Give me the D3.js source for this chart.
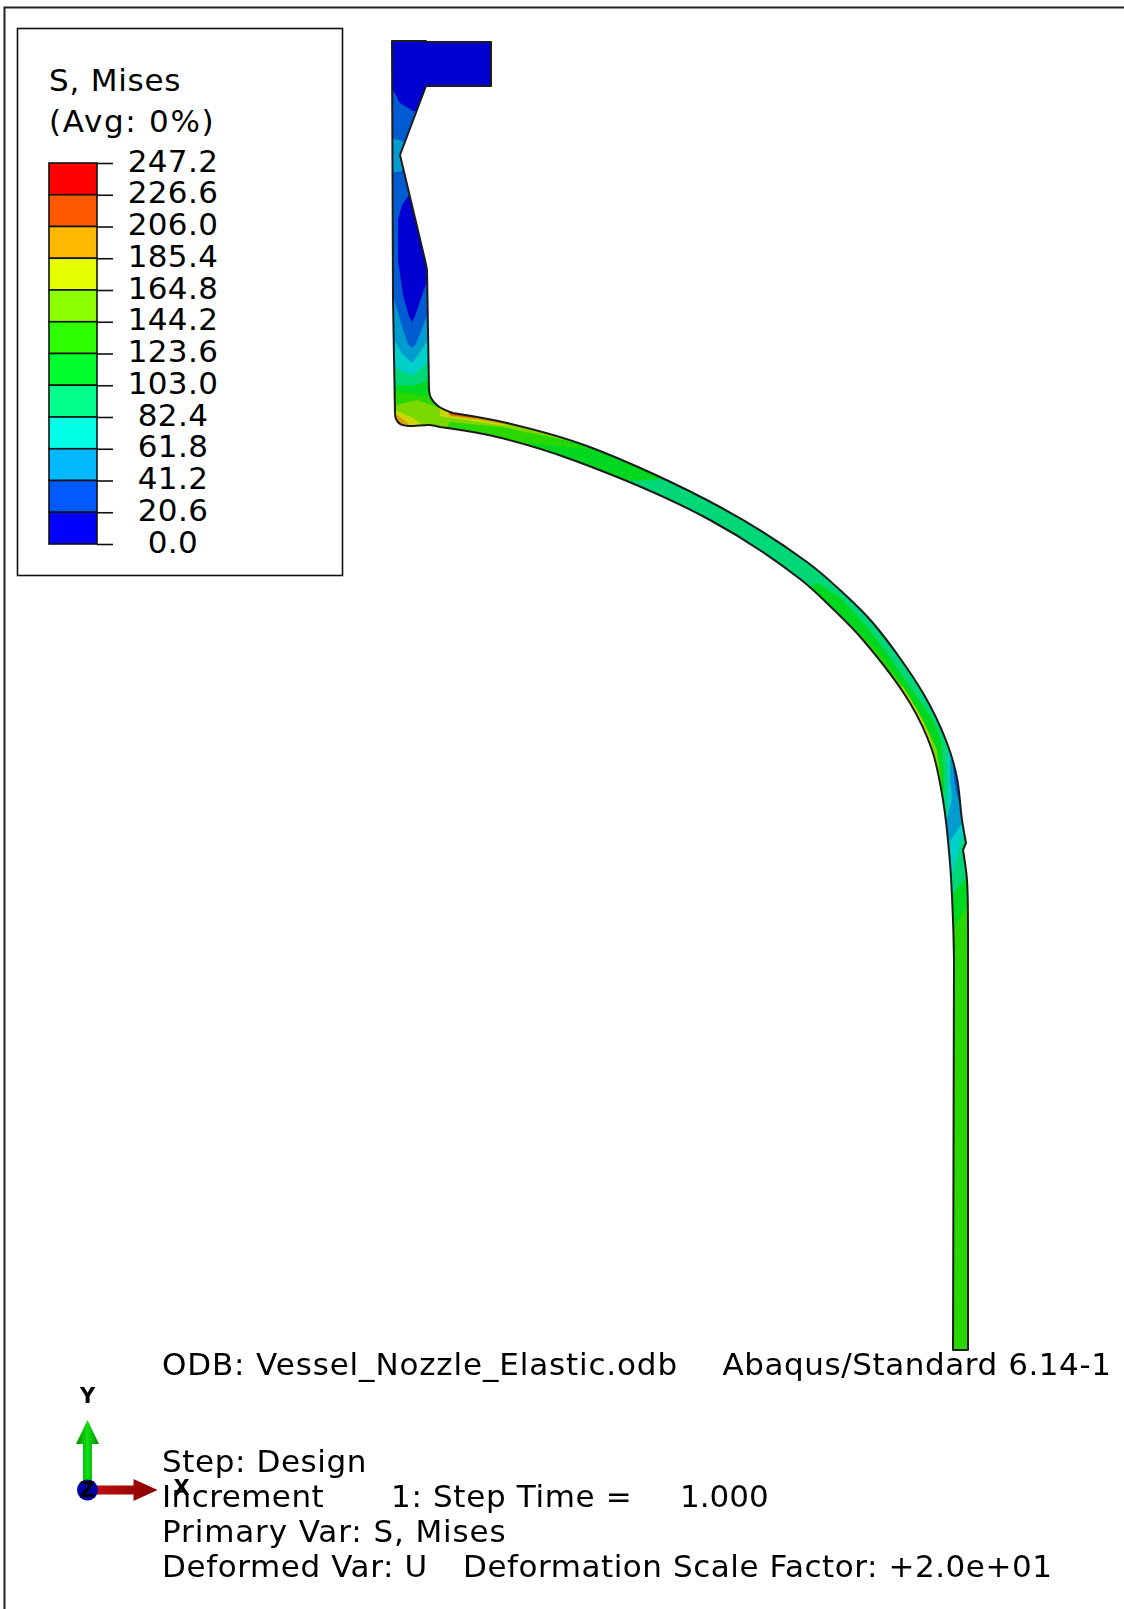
<!DOCTYPE html>
<html>
<head>
<meta charset="utf-8">
<script src="https://cdnjs.cloudflare.com/ajax/libs/d3/7.8.5/d3.min.js"></script>
<style>
  html, body { margin: 0; background: #fff; }
  svg { display: block; font-family: "DejaVu Sans", sans-serif; filter: blur(0.45px); }
  text { fill: #000; }
</style>
</head>
<body>
<div id="chart"></div>
<script>
// legend
var legendTitle = ["S, Mises", "(Avg: 0%)"];
var legendValues = [247.2, 226.6, 206.0, 185.4, 164.8, 144.2, 123.6, 103.0, 82.4, 61.8, 41.2, 20.6, 0.0];
var legendColors = ["#ff0000", "#ff5a00", "#ffb900", "#e6ff00", "#8cff00", "#2dff00", "#00ff2d", "#00ff8c", "#00ffe6", "#00b9ff", "#005aff", "#0000ff"];

// shaded colours of the contour bands on the part, low stress to high
var bandColors = ["#0000d0", "#005cd0", "#009cd0", "#00d0c8", "#00d878", "#00d820", "#28d800", "#7ad800", "#c8d800", "#d8a000", "#d85000"];

// outline of the part in model units
var outlineFlange = [[0,1309],[34,1309],[34,1308],[99,1308],[99,1264],[34,1264],[8,1195],[33,1090],[35,1080],[37,960]];
var outlineFillet = [[37,960],[39,952],[46,944],[58,938],[61,937]];
var outlineOuter = [[61,937],[115,927],[195,904],[328,843],[415,788],[448,760],[481,727],[531,657],[555,607],[565,572],[570,530],[574,507]];
var outlineKink = [[574,507],[571,500]];
var outlineShell = [[571,500],[575,470],[576,423],[576,390]];
var outlineEnd = [[576,390],[576,0],[561,0],[562,390]];
var outlineInner = [[562,390],[561,430],[558,487],[551,550],[540,600],[518,647],[471,710],[441,741],[408,771],[318,830],[181,890],[105,913],[48,923]];
var outlineHeel = [[48,923],[38,925],[16,924],[8,926],[4,931],[3,937]];
var outlineLeft = [[3,937],[1,1050],[0,1309]];

// contour regions: band index + polygon, painted in order and clipped to the outline
var contourBands = [0,1,2,2,3,4,5,6,7,8,9,10, 4,6,5,4, 5,6,7, 8,9,10, 5,6,7,8,9, 3,2,1];
var contourRegions = [
  [[-7,1320],[110,1320],[110,1250],[48,1250],[48,900],[-7,900]],
  [[-7,1260],[1,1260],[8,1247],[21,1239],[33,1239],[33,1157],[17,1155],[10,1145],[6,1130],[6,1090],[11,1055],[17,1034],[20,1028],[23,1034],[36,1072],[48,1072],[48,900],[-7,900]],
  [[-7,1213],[11,1209],[18,1195],[10,1179],[-7,1176]],
  [[1,1055],[11,1020],[16,1006],[20,1002],[24,1006],[36,1037],[48,1037],[48,900],[-7,900],[-7,1055]],
  [[2,1010],[11,995],[20,987],[28,998],[36,1010],[48,1010],[48,900],[-7,900],[-7,1010]],
  [[3,983],[11,978],[20,975],[28,980],[36,988],[48,988],[48,900],[-7,900],[-7,983]],
  [[3,965],[20,964],[37,970],[48,970],[48,900],[-7,900],[-7,965]],
  [[4,958],[21,956],[40,953],[48,953],[48,900],[-7,900],[-7,958]],
  [[4,945],[25,950],[45,943],[48,942],[48,900],[-7,900],[-7,945]],
  [[-7,942],[5,939],[21,932],[36,922],[-7,920]],
  [[-7,938],[5,935],[11,931],[20,922],[-7,920]],
  [[-7,932],[4,930],[8,928],[14,922],[-7,920]],
  [[48,955],[588,955],[588,550],[48,550]],
  [[548,447],[588,447],[588,-10],[548,-10]],
  [[548,500],[588,500],[588,450],[576,447],[563,423],[548,423]],
  [[548,550],[588,550],[588,473],[575,473],[561,457],[548,457]],
  [[48,955],[268,880],[268,871],[238,869],[228,855],[48,910]],
  [[58,928],[115,922],[148,915],[198,901],[135,907],[128,890],[48,910],[48,930]],
  [[48,950],[198,904],[148,915],[115,922],[58,928],[48,910]],
  [[48,950],[143,914],[118,923],[88,928],[58,932],[48,934]],
  [[53,946],[111,931],[111,926],[88,930],[58,934]],
  [[53,944],[83,938],[83,932],[58,935]],
  [[425,767],[448,753],[475,723],[495,697],[518,663],[541,630],[549,610],[552,577],[552,540],[533,540],[488,630],[408,730],[408,760]],
  [[465,720],[491,693],[511,663],[528,633],[541,607],[549,580],[551,550],[535,550],[488,630],[458,700]],
  [[501,675],[515,657],[531,630],[545,600],[549,565],[530,565],[488,650],[490,680]],
  [[511,663],[525,640],[538,613],[541,597],[530,590],[495,665]],
  [[521,640],[532,618],[537,603],[525,603],[515,640]],
  [[556,602],[561,602],[583,570],[583,515],[571,515],[565,493],[561,477],[553,477],[553,507],[555,533],[556,560]],
  [[558,590],[583,590],[583,527],[570,527],[561,513],[556,507],[552,507],[553,525],[555,533],[558,543],[560,553],[558,570]],
  [[561,585],[583,585],[583,542],[569,542],[565,555],[562,570]]
];

// captions under the model
var odbLabel = "ODB: Vessel_Nozzle_Elastic.odb";
var versionLabel = "Abaqus/Standard 6.14-1";
var stepLabel = "Step: Design";
var incrementLabels = ["Increment", "1: Step Time =", "1.000"];
var primaryLabel = "Primary Var: S, Mises";
var deformedLabels = ["Deformed Var: U", "Deformation Scale Factor: +2.0e+01"];

var width = 1124, height = 1609;

var svg = d3.select("#chart").append("svg")
  .attr("width", width)
  .attr("height", height);

var defs = svg.append("defs");

// viewport frame
svg.append("path")
  .attr("d", "M4.5," + height + "V7.5H" + width)
  .attr("fill", "none")
  .attr("stroke", "#222")
  .attr("stroke-width", 2);

// model scales
var x = d3.scaleLinear().domain([0, 577]).range([392, 969]);
var y = d3.scaleLinear().domain([0, 1310]).range([1350, 40]);

var straight = d3.line().x(function(d){ return x(d[0]); }).y(function(d){ return y(d[1]); });
var rounded = d3.line().x(function(d){ return x(d[0]); }).y(function(d){ return y(d[1]); }).curve(d3.curveCatmullRom);

// glue the pieces into one closed path
var outlinePath = [
  straight(outlineFlange),
  rounded(outlineFillet),
  rounded(outlineOuter),
  straight(outlineKink),
  rounded(outlineShell),
  straight(outlineEnd),
  rounded(outlineInner),
  rounded(outlineHeel),
  straight(outlineLeft)
].map(function(p, i){ return i ? p.replace(/^M/, "L") : p; }).join("") + "Z";

defs.append("clipPath").attr("id", "part").append("path").attr("d", outlinePath);

svg.append("g")
  .attr("clip-path", "url(#part)")
  .selectAll("path")
  .data(contourRegions)
  .enter()
  .append("path")
  .attr("d", function(d){ return straight(d) + "Z"; })
  .attr("fill", function(d, i){ return bandColors[contourBands[i]]; });

svg.append("path")
  .attr("d", outlinePath)
  .attr("fill", "none")
  .attr("stroke", "#1c1c1c")
  .attr("stroke-width", 2)
  .attr("stroke-linejoin", "round");

// legend box
var legend = svg.append("g");
legend.append("rect")
  .attr("x", 17.5).attr("y", 28.5)
  .attr("width", 325).attr("height", 547)
  .attr("fill", "#fff")
  .attr("stroke", "#111")
  .attr("stroke-width", 1.6);

var titleSpacing = [0.77, 1.7];
legend.selectAll(".title")
  .data(legendTitle)
  .enter()
  .append("text")
  .attr("class", "title")
  .attr("x", 49)
  .attr("y", function(d, i){ return 91 + i * 41; })
  .attr("font-size", 31)
  .attr("letter-spacing", function(d, i){ return titleSpacing[i]; })
  .text(function(d){ return d; });

var legendScale = d3.scaleLinear().domain([0, 247.2]).range([544, 163]);

legend.selectAll(".swatch")
  .data(legendColors)
  .enter()
  .append("rect")
  .attr("class", "swatch")
  .attr("x", 49)
  .attr("width", 48)
  .attr("y", function(d, i){ return legendScale(legendValues[i]); })
  .attr("height", function(d, i){ return legendScale(legendValues[i + 1]) - legendScale(legendValues[i]); })
  .attr("fill", function(d){ return d; })
  .attr("stroke", "#111")
  .attr("stroke-width", 1.6);

var legendAxis = d3.axisRight(legendScale)
  .tickValues(legendValues)
  .tickSize(16)
  .tickFormat(function(d){ return d.toFixed(1); });

var axisG = legend.append("g")
  .attr("transform", "translate(97,0)")
  .call(legendAxis);
axisG.select(".domain").remove();
axisG.selectAll("line").attr("stroke", "#111").attr("stroke-width", 1.6);
axisG.selectAll("text")
  .attr("x", 76)
  .attr("dy", "0.26em")
  .attr("text-anchor", "middle")
  .attr("font-family", "DejaVu Sans")
  .attr("font-size", 31)
  .attr("letter-spacing", 0.4)
  .attr("fill", "#000");

// captions
function caption(label, left, base, spacing) {
  svg.append("text")
    .attr("x", left)
    .attr("y", base)
    .attr("font-size", 31)
    .attr("letter-spacing", spacing)
    .text(label);
}
caption(odbLabel, 162, 1375, 0.85);
caption(versionLabel, 722.5, 1375, 0.56);
caption(stepLabel, 162, 1472, 0.6);
caption(incrementLabels[0], 162, 1507, 0.45);
caption(incrementLabels[1], 391, 1507, 0.66);
caption(incrementLabels[2], 680, 1507, 0);
caption(primaryLabel, 162, 1542, 0.88);
caption(deformedLabels[0], 162, 1577, 0.6);
caption(deformedLabels[1], 463, 1577, 0.54);

// triad
var green = defs.append("linearGradient").attr("id", "greenArrow");
green.append("stop").attr("offset", "0").attr("stop-color", "#008a00");
green.append("stop").attr("offset", "0.5").attr("stop-color", "#12e012");
green.append("stop").attr("offset", "1").attr("stop-color", "#008a00");
var red = defs.append("linearGradient").attr("id", "redArrow");
red.append("stop").attr("offset", "0").attr("stop-color", "#c81010");
red.append("stop").attr("offset", "1").attr("stop-color", "#860000");

var triad = svg.append("g").attr("transform", "translate(87.5,1490)");
triad.append("path")
  .attr("d", "M-4.5,0V-46H-11.5L0,-70L11.5,-46H4.5V0Z")
  .attr("fill", "url(#greenArrow)");
triad.append("path")
  .attr("d", "M0,-4.5H46V-11L70,0L46,11V4.5H0Z")
  .attr("fill", "url(#redArrow)");
triad.append("circle").attr("r", 10.5).attr("fill", "#0000a8");

function axisLetter(label, px, py) {
  triad.append("text")
    .attr("x", px).attr("y", py)
    .attr("text-anchor", "middle")
    .attr("font-weight", "bold")
    .attr("font-size", 21)
    .text(label);
}
axisLetter("Y", 0, -87);
axisLetter("X", 94, 5);
axisLetter("Z", 0, 7);
</script>
</body>
</html>
